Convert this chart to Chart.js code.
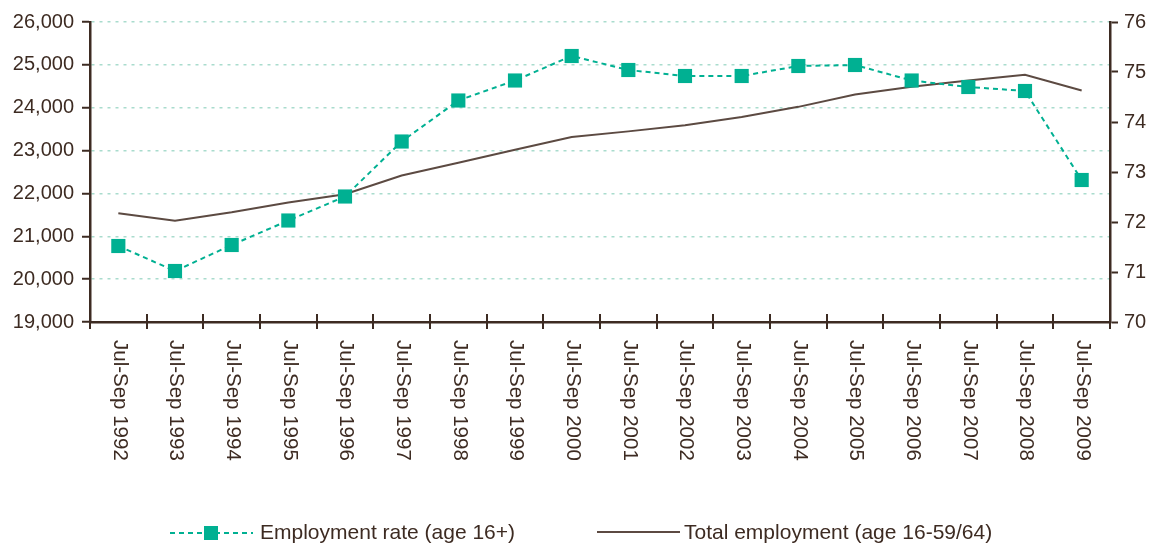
<!DOCTYPE html>
<html>
<head>
<meta charset="utf-8">
<script src="https://cdn.jsdelivr.net/npm/chart.js@4/dist/chart.umd.min.js"></script>
<style>
  html, body { margin: 0; padding: 0; background: #fff; }
  #wrap { width: 1152px; height: 545px; position: relative; }
</style>
</head>
<body>
<div id="wrap"><canvas id="chart"></canvas></div>
<script>
const labels = ['Jul-Sep 1992', 'Jul-Sep 1993', 'Jul-Sep 1994', 'Jul-Sep 1995', 'Jul-Sep 1996',
  'Jul-Sep 1997', 'Jul-Sep 1998', 'Jul-Sep 1999', 'Jul-Sep 2000', 'Jul-Sep 2001', 'Jul-Sep 2002',
  'Jul-Sep 2003', 'Jul-Sep 2004', 'Jul-Sep 2005', 'Jul-Sep 2006', 'Jul-Sep 2007', 'Jul-Sep 2008',
  'Jul-Sep 2009'];
const employmentRate = [71.52, 71.02, 71.54, 72.03, 72.51, 73.61, 74.43, 74.83, 75.32, 75.04,
  74.92, 74.92, 75.12, 75.14, 74.83, 74.70, 74.62, 72.84];
const totalEmployment = [21540, 21360, 21560, 21790, 21980, 22420, 22715, 23020, 23316, 23448,
  23590, 23785, 24020, 24307, 24488, 24635, 24768, 24400];
const leftTicks = [19000, 26000, 1000];
const rightTicks = [70, 76, 1];
const legendItems = ['Employment rate (age 16+)', 'Total employment (age 16-59/64)'];

const GREEN = '#00b092';
const BROWN = '#5c4a42';
const TEXT = '#3d2b22';
const GRID = '#a9dccd';
const FONT = '"Liberation Sans", Arial, sans-serif';

const extras = {
  id: 'extras',
  afterDraw(chart) {
    const ctx = chart.ctx;
    const x = chart.scales.x;
    const bottom = chart.chartArea.bottom;
    ctx.save();
    // tick marks crossing the x axis, between categories
    ctx.strokeStyle = '#3d2b22';
    ctx.lineWidth = 2;
    for (let i = 0; i <= labels.length; i++) {
      const px = Math.round(x.getPixelForValue(i - 0.5));
      ctx.beginPath();
      ctx.moveTo(px, bottom - 8);
      ctx.lineTo(px, bottom + 7);
      ctx.stroke();
    }
    // rotated category labels, reading top to bottom
    ctx.fillStyle = TEXT;
    ctx.font = '20.5px ' + FONT;
    ctx.textAlign = 'left';
    ctx.textBaseline = 'middle';
    labels.forEach((lab, i) => {
      ctx.save();
      ctx.translate(x.getPixelForValue(i) + 1, bottom + 18);
      ctx.rotate(Math.PI / 2);
      ctx.fillText(lab, 0, 0);
      ctx.restore();
    });
    // legend
    const ly = 533;
    ctx.lineWidth = 2;
    ctx.strokeStyle = GREEN;
    ctx.setLineDash([5, 4]);
    ctx.beginPath();
    ctx.moveTo(170, ly);
    ctx.lineTo(253, ly);
    ctx.stroke();
    ctx.setLineDash([]);
    ctx.fillStyle = GREEN;
    ctx.fillRect(204, ly - 7, 14, 14);
    ctx.strokeStyle = BROWN;
    ctx.beginPath();
    ctx.moveTo(597, ly - 1);
    ctx.lineTo(680, ly - 1);
    ctx.stroke();
    ctx.fillStyle = TEXT;
    ctx.font = '21px ' + FONT;
    ctx.textBaseline = 'middle';
    ctx.fillText(legendItems[0], 260, ly);
    ctx.fillText(legendItems[1], 684, ly);
    ctx.restore();
  }
};

new Chart(document.getElementById('chart'), {
  type: 'line',
  data: {
    labels: labels,
    datasets: [{
      label: legendItems[0],
      data: employmentRate,
      yAxisID: 'y1',
      borderColor: GREEN,
      backgroundColor: GREEN,
      borderWidth: 2,
      borderDash: [5, 4],
      pointStyle: 'rect',
      pointRadius: 10,
      pointHoverRadius: 10,
      pointBorderWidth: 0,
      tension: 0
    }, {
      label: legendItems[1],
      data: totalEmployment,
      yAxisID: 'y',
      borderColor: BROWN,
      borderWidth: 2,
      pointRadius: 0,
      tension: 0
    }]
  },
  options: {
    responsive: true,
    maintainAspectRatio: false,
    animation: false,
    layout: { padding: { top: 22, left: 0, right: 0, bottom: 0 } },
    plugins: {
      legend: { display: false },
      tooltip: { enabled: false }
    },
    scales: {
      x: {
        type: 'category',
        offset: true,
        grid: { display: false },
        border: { color: '#3d2b22', width: 2.5 },
        ticks: { display: false },
        afterFit(scale) { scale.height = 223; }
      },
      y: {
        position: 'left',
        min: leftTicks[0],
        max: leftTicks[1],
        ticks: {
          stepSize: leftTicks[2],
          color: TEXT,
          font: { size: 20, family: FONT },
          padding: 8
        },
        grid: {
          color: (c) => (c.tick && c.tick.value === leftTicks[0]) ? 'rgba(0,0,0,0)' : GRID,
          lineWidth: 1.5,
          tickColor: '#3d2b22',
          tickLength: 8,
          tickWidth: 2
        },
        border: { color: '#3d2b22', width: 2.5, dash: [3, 5] },
        afterFit(scale) { scale.width = 90; }
      },
      y1: {
        position: 'right',
        min: rightTicks[0],
        max: rightTicks[1],
        ticks: {
          stepSize: rightTicks[2],
          color: TEXT,
          font: { size: 20, family: FONT },
          padding: 6
        },
        grid: {
          drawOnChartArea: false,
          tickColor: '#3d2b22',
          tickLength: 8,
          tickWidth: 2
        },
        border: { color: '#3d2b22', width: 2.5 },
        afterFit(scale) { scale.width = 42; }
      }
    }
  },
  plugins: [extras]
});
</script>
</body>
</html>
